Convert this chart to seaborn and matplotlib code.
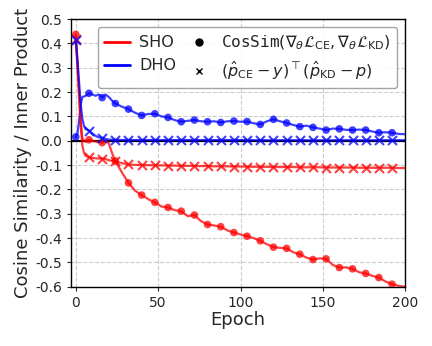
import matplotlib
matplotlib.use("Agg")
import matplotlib.pyplot as plt
from matplotlib.lines import Line2D
import numpy as np
import pandas as pd
import seaborn as sns

epochs = [0, 1, 2, 3, 4, 5, 6, 8, 10, 12, 14, 16, 18, 20, 22, 24,
          28, 32, 36, 40, 44, 48, 52, 56, 60, 64, 68, 72, 76, 80, 84, 88,
          92, 96, 100, 104, 108, 112, 116, 120, 124, 128, 132, 136, 140, 144,
          148, 152, 156, 160, 164, 168, 172, 176, 180, 184, 188, 192, 196, 200]

# cosine similarity of the two gradients
sho_cos = [0.437, 0.33, 0.20, 0.08, 0.01, 0.0, -0.004, 0.004, 0.0, -0.003, -0.006, -0.008, 0.0, -0.01, -0.05, -0.083,
           -0.13, -0.173, -0.205, -0.223, -0.24, -0.253, -0.27, -0.274, -0.285, -0.289, -0.31, -0.305, -0.33, -0.344,
           -0.348, -0.353, -0.368, -0.377, -0.385, -0.392, -0.40, -0.411, -0.425, -0.437, -0.44, -0.442, -0.458,
           -0.466, -0.48, -0.488, -0.483, -0.485, -0.51, -0.521, -0.52, -0.526, -0.54, -0.545, -0.555, -0.562,
           -0.578, -0.589, -0.596, -0.6]
dho_cos = [0.016, 0.03, 0.08, 0.15, 0.18, 0.182, 0.185, 0.195, 0.19, 0.185, 0.19, 0.177, 0.19, 0.18, 0.165, 0.153,
           0.14, 0.13, 0.115, 0.104, 0.11, 0.111, 0.10, 0.096, 0.085, 0.078, 0.082, 0.085, 0.08, 0.078, 0.08, 0.075,
           0.08, 0.081, 0.078, 0.079, 0.072, 0.067, 0.08, 0.088, 0.08, 0.073, 0.065, 0.058, 0.062, 0.055, 0.05,
           0.044, 0.05, 0.049, 0.045, 0.044, 0.046, 0.044, 0.038, 0.033, 0.035, 0.033, 0.028, 0.027]

# inner product of the two residuals
sho_ip = [0.42, 0.30, 0.18, 0.06, -0.02, -0.05, -0.062, -0.068, -0.07, -0.072, -0.073, -0.073, -0.075, -0.08, -0.082,
          -0.085, -0.092, -0.097, -0.099, -0.1, -0.1, -0.101, -0.101, -0.102, -0.102, -0.103, -0.103, -0.104, -0.104,
          -0.104, -0.105, -0.105, -0.105, -0.106, -0.106, -0.106, -0.107, -0.107, -0.107, -0.108, -0.108, -0.108,
          -0.108, -0.109, -0.109, -0.109, -0.109, -0.11, -0.11, -0.11, -0.11, -0.11, -0.111, -0.111, -0.111, -0.111,
          -0.111, -0.111, -0.112, -0.112]
dho_ip = [0.415, 0.33, 0.24, 0.15, 0.09, 0.06, 0.048, 0.042, 0.03, 0.02, 0.014, 0.012, 0.008, 0.005, 0.004, 0.004,
          0.003, 0.003, 0.003, 0.003, 0.003, 0.003, 0.003, 0.003, 0.003, 0.003, 0.003, 0.003, 0.003, 0.003, 0.003,
          0.003, 0.003, 0.003, 0.003, 0.003, 0.002, 0.002, 0.002, 0.002, 0.002, 0.002, 0.002, 0.002, 0.002, 0.002,
          0.002, 0.002, 0.002, 0.002, 0.002, 0.002, 0.002, 0.002, 0.002, 0.002, 0.002, 0.002, 0.002, 0.002]

x_ticks = [0, 50, 100, 150, 200]
y_ticks = [-0.6, -0.5, -0.4, -0.3, -0.2, -0.1, 0.0, 0.1, 0.2, 0.3, 0.4, 0.5]


sns.set_style("ticks")
plt.rcParams["axes.unicode_minus"] = False
plt.rcParams["font.family"] = ["DejaVu Sans"]

df = pd.DataFrame({"epoch": epochs, "sho_cos": sho_cos, "dho_cos": dho_cos,
                   "sho_ip": sho_ip, "dho_ip": dho_ip})
# markers every 8 epochs
marks = df[(df["epoch"] % 8 == 0) & (df["epoch"] <= 192)]

fig = plt.figure(figsize=(4.32, 3.46), dpi=100)
ax = fig.add_axes([0.164, 0.171, 0.774, 0.774])

ax.axhline(0, color="k", lw=1.6, zorder=1)

for col, color in [("sho_cos", "#ff0000"), ("dho_cos", "#0000ff"), ("sho_ip", "#ff0000"), ("dho_ip", "#0000ff")]:
	sns.lineplot(data=df, x="epoch", y=col, color=color, alpha=0.75, lw=1.6, ax=ax, zorder=2)
	if col.endswith("cos"):
		sns.scatterplot(data=marks, x="epoch", y=col, color=color, alpha=0.75, marker="o", s=30,
		                edgecolor="none", ax=ax, zorder=3)
	else:
		sns.scatterplot(data=marks, x="epoch", y=col, color=color, alpha=0.75, marker="x", s=42,
		                linewidth=1.5, ax=ax, zorder=3)

ax.set_xlim(-3, 200)
ax.set_ylim(-0.6, 0.5)
ax.set_xticks(x_ticks)
ax.set_yticks(y_ticks)
ax.set_yticklabels(["%.1f" % (v + 0.0) for v in y_ticks])
ax.tick_params(labelsize=10, length=3)
ax.grid(True, ls="--", color="0.8", lw=0.8)
for s in ax.spines.values():
	s.set_color("k")
	s.set_linewidth(1.0)

ax.set_xlabel("Epoch", fontsize=13, labelpad=1)
ax.set_ylabel("Cosine Similarity / Inner Product", fontsize=13, labelpad=2)

handles = [
	Line2D([], [], color="#ff0000", lw=2),
	Line2D([], [], color="#0000ff", lw=2),
	Line2D([], [], color="k", marker="o", ls="none", ms=5),
	Line2D([], [], color="k", marker="x", ls="none", ms=5),
]
labels = [
	"SHO",
	"DHO",
	r"$\mathtt{CosSim}(\nabla_\theta\mathcal{L}_{\mathrm{CE}},\nabla_\theta\mathcal{L}_{\mathrm{KD}})$",
	r"$(\hat{p}_{\mathrm{CE}}-y)^\top(\hat{p}_{\mathrm{KD}}-p)$",
]
ax.legend(handles, labels, ncol=2, loc="upper right", fontsize=11.5, handlelength=1.6,
          columnspacing=0.6, handletextpad=0.6, framealpha=0.9, edgecolor="0.6")

plt.savefig("out.png", dpi=100)
